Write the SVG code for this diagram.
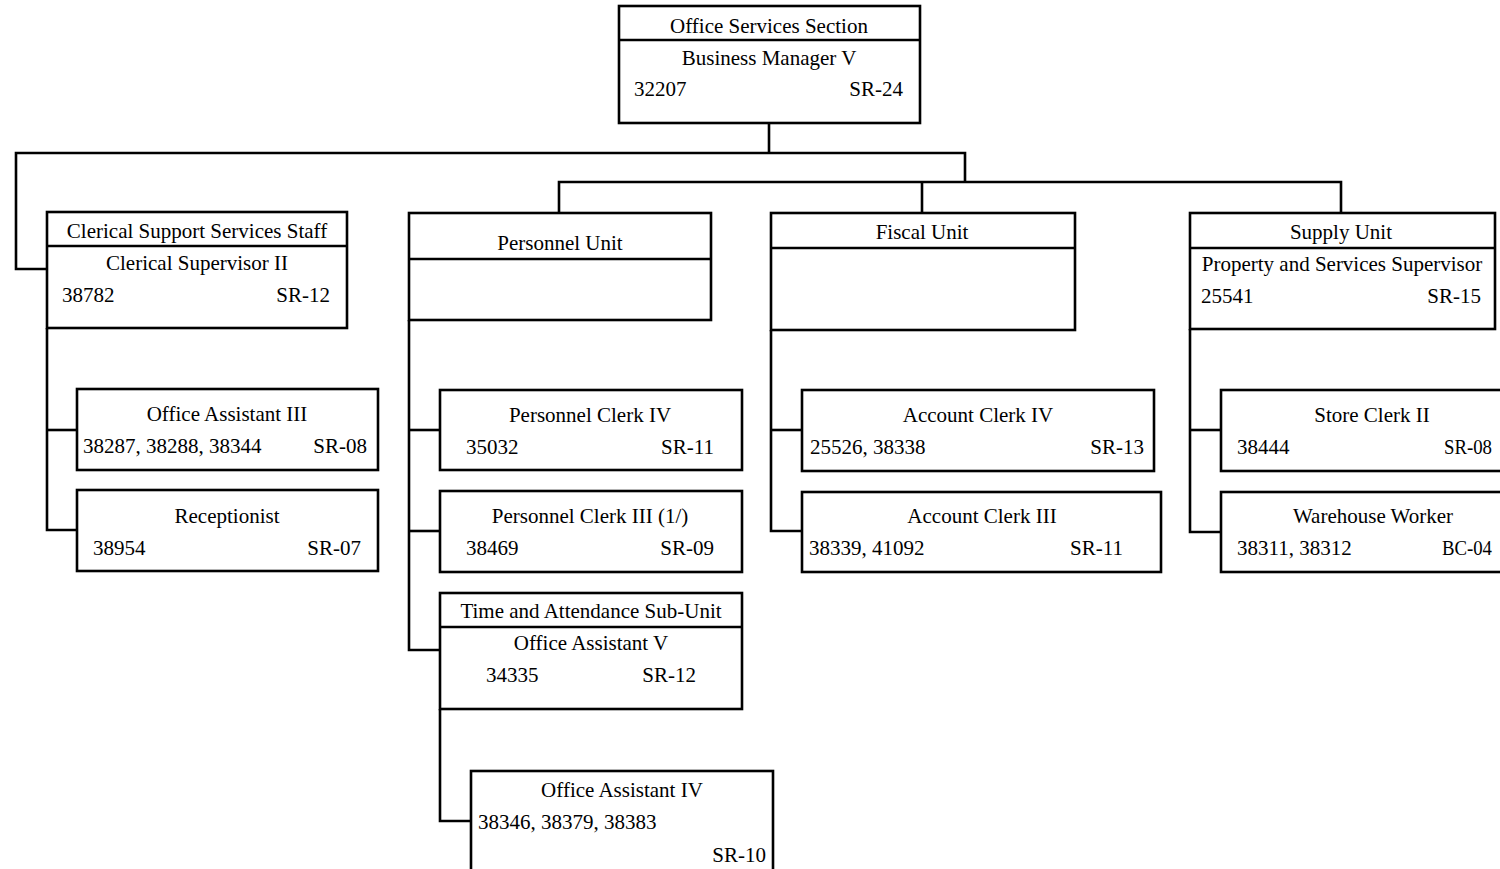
<svg xmlns="http://www.w3.org/2000/svg" width="1500" height="869" viewBox="0 0 1500 869">
<style>
.b{fill:#fff;stroke:#000;stroke-width:2.6}
.d{stroke:#000;stroke-width:2.6;fill:none}
.k{fill:none;stroke:#000;stroke-width:2.6}
text{font-family:"Liberation Serif","Times New Roman",serif;font-size:21px;fill:#000}
.m{text-anchor:middle}
.r{text-anchor:end}
</style>
<rect width="1500" height="869" fill="#fff"/>
<g id="connectors">
<polyline class="k" points="769,123 769,153"/>
<polyline class="k" points="47,269 16,269 16,153 965,153 965,182"/>
<polyline class="k" points="559,213 559,182 1341,182 1341,213"/>
<polyline class="k" points="922,182 922,213"/>
<polyline class="k" points="47,328 47,530 77,530"/>
<polyline class="k" points="47,430 77,430"/>
<polyline class="k" points="409,320 409,650 440,650"/>
<polyline class="k" points="409,430 440,430"/>
<polyline class="k" points="409,531 440,531"/>
<polyline class="k" points="440,709 440,821 471,821"/>
<polyline class="k" points="771,330 771,531 802,531"/>
<polyline class="k" points="771,430 802,430"/>
<polyline class="k" points="1190,329 1190,532 1221,532"/>
<polyline class="k" points="1190,430 1221,430"/>
</g>
<g id="office-services">
<rect class="b" x="619" y="6" width="301" height="117"/>
<line class="d" x1="619" y1="40" x2="920" y2="40"/>
<text class="m" x="769" y="33">Office Services Section</text>
<text class="m" x="769" y="65">Business Manager V</text>
<text x="634" y="96">32207</text>
<text class="r" x="903" y="96">SR-24</text>
</g>
<g id="clerical-support">
<rect class="b" x="47" y="212" width="300" height="116"/>
<line class="d" x1="47" y1="246" x2="347" y2="246"/>
<text class="m" x="197" y="238">Clerical Support Services Staff</text>
<text class="m" x="197" y="270">Clerical Supervisor II</text>
<text x="62" y="302">38782</text>
<text class="r" x="330" y="302">SR-12</text>
</g>
<g id="office-assistant-3">
<rect class="b" x="77" y="389" width="301" height="81"/>
<text class="m" x="227" y="421">Office Assistant III</text>
<text x="83" y="453">38287, 38288, 38344</text>
<text class="r" x="367" y="453">SR-08</text>
</g>
<g id="receptionist">
<rect class="b" x="77" y="490" width="301" height="81"/>
<text class="m" x="227" y="523">Receptionist</text>
<text x="93" y="555">38954</text>
<text class="r" x="361" y="555">SR-07</text>
</g>
<g id="personnel-unit">
<rect class="b" x="409" y="213" width="302" height="107"/>
<line class="d" x1="409" y1="259" x2="711" y2="259"/>
<text class="m" x="560" y="250">Personnel Unit</text>
</g>
<g id="personnel-clerk-4">
<rect class="b" x="440" y="390" width="302" height="80"/>
<text class="m" x="590" y="422">Personnel Clerk IV</text>
<text x="466" y="454">35032</text>
<text class="r" x="714" y="454">SR-11</text>
</g>
<g id="personnel-clerk-3">
<rect class="b" x="440" y="491" width="302" height="81"/>
<text class="m" x="590" y="523">Personnel Clerk III (1/)</text>
<text x="466" y="555">38469</text>
<text class="r" x="714" y="555">SR-09</text>
</g>
<g id="time-attendance">
<rect class="b" x="440" y="593" width="302" height="116"/>
<line class="d" x1="440" y1="627" x2="742" y2="627"/>
<text class="m" x="591" y="618">Time and Attendance Sub-Unit</text>
<text class="m" x="591" y="650">Office Assistant V</text>
<text x="486" y="682">34335</text>
<text class="r" x="696" y="682">SR-12</text>
</g>
<g id="office-assistant-4">
<rect class="b" x="471" y="771" width="302" height="110"/>
<text class="m" x="622" y="797">Office Assistant IV</text>
<text x="478" y="829">38346, 38379, 38383</text>
<text class="r" x="766" y="862">SR-10</text>
</g>
<g id="fiscal-unit">
<rect class="b" x="771" y="213" width="304" height="117"/>
<line class="d" x1="771" y1="248" x2="1075" y2="248"/>
<text class="m" x="922" y="239">Fiscal Unit</text>
</g>
<g id="account-clerk-4">
<rect class="b" x="802" y="390" width="352" height="81"/>
<text class="m" x="978" y="422">Account Clerk IV</text>
<text x="810" y="454">25526, 38338</text>
<text class="r" x="1144" y="454">SR-13</text>
</g>
<g id="account-clerk-3">
<rect class="b" x="802" y="492" width="359" height="80"/>
<text class="m" x="982" y="523">Account Clerk III</text>
<text x="809" y="555">38339, 41092</text>
<text class="r" x="1123" y="555">SR-11</text>
</g>
<g id="supply-unit">
<rect class="b" x="1190" y="213" width="305" height="116"/>
<line class="d" x1="1190" y1="248" x2="1495" y2="248"/>
<text class="m" x="1341" y="239">Supply Unit</text>
<text class="m" x="1342" y="271">Property and Services Supervisor</text>
<text x="1201" y="303">25541</text>
<text class="r" x="1481" y="303">SR-15</text>
</g>
<g id="store-clerk-2">
<rect class="b" x="1221" y="390" width="300" height="81"/>
<text class="m" x="1372" y="422">Store Clerk II</text>
<text x="1237" y="454">38444</text>
<text x="1444" y="454" textLength="48" lengthAdjust="spacingAndGlyphs">SR-08</text>
</g>
<g id="warehouse-worker">
<rect class="b" x="1221" y="492" width="300" height="80"/>
<text class="m" x="1373" y="523">Warehouse Worker</text>
<text x="1237" y="555">38311, 38312</text>
<text x="1442" y="555" textLength="50" lengthAdjust="spacingAndGlyphs">BC-04</text>
</g>
</svg>
